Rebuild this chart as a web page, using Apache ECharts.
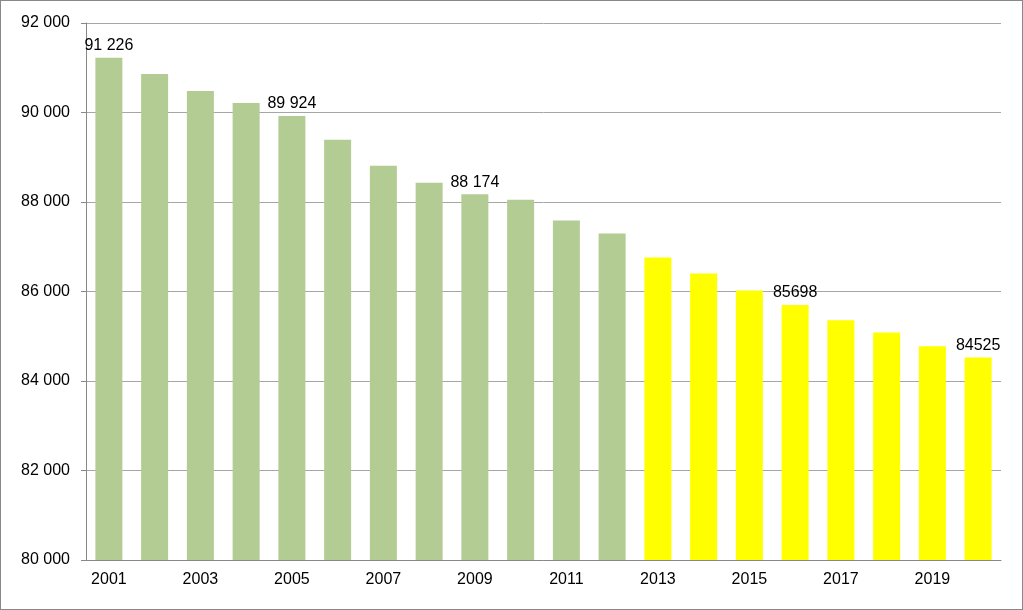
<!DOCTYPE html>
<html>
<head>
<meta charset="utf-8">
<script src="https://cdn.jsdelivr.net/npm/echarts@6/dist/echarts.min.js"></script>
<style>
html, body { margin: 0; padding: 0; background: #fff; }
#chart { width: 1021px; height: 608px; border: 1px solid #888; }
</style>
</head>
<body>
<div id="chart"></div>
<script>
// years and values
var years = ['2001', '2002', '2003', '2004', '2005', '2006', '2007', '2008', '2009', '2010',
    '2011', '2012', '2013', '2014', '2015', '2016', '2017', '2018', '2019', '2020'];
var values = [91226, 90860, 90480, 90215, 89924, 89390, 88810, 88430, 88174, 88050,
    87585, 87295, 86760, 86400, 86025, 85698, 85355, 85085, 84775, 84525];
// which bars show a label, and its text
var labelTexts = ['91 226', '', '', '', '89 924', '', '', '', '88 174', '',
    '', '', '', '', '', '85698', '', '', '', '84525'];
var forecastFrom = 12; // index of first yellow bar

function fmt(v) {
    return String(v).replace(/\B(?=(\d{3})+(?!\d))/g, ' ');
}

var data = values.map(function (v, i) {
    return {
        value: v,
        itemStyle: { color: i >= forecastFrom ? '#ffff00' : '#b3cc94' },
        label: { show: labelTexts[i] !== '', formatter: labelTexts[i] }
    };
});

var option = {
    animation: false,
    textStyle: { fontFamily: 'Liberation Sans, Arial' },
    grid: { left: 85, right: 21, top: 22, bottom: 49 },
    xAxis: {
        type: 'category',
        data: years,
        axisTick: { show: false },
        axisLine: { lineStyle: { color: '#888' } },
        axisLabel: { color: '#000', fontSize: 16, margin: 12 }
    },
    yAxis: {
        type: 'value',
        min: 80000,
        max: 92000,
        interval: 2000,
        axisLine: { show: true, lineStyle: { color: '#888' } },
        axisTick: { show: true, length: 5, lineStyle: { color: '#888' } },
        splitLine: { lineStyle: { color: '#a6a6a6' } },
        axisLabel: { color: '#000', fontSize: 16, margin: 16, formatter: fmt }
    },
    series: [{
        type: 'bar',
        data: data,
        barWidth: 27,
        label: { position: 'top', color: '#000', fontSize: 16, distance: 4 }
    }]
};

var myechart = echarts.init(document.getElementById('chart'));
myechart.setOption(option);
</script>
</body>
</html>
